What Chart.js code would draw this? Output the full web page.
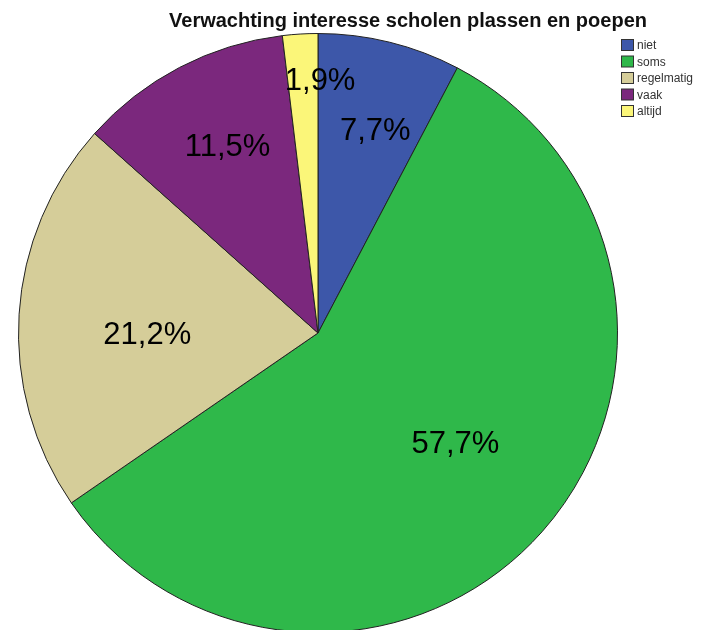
<!DOCTYPE html>
<html>
<head>
<meta charset="utf-8">
<script src="https://cdn.jsdelivr.net/npm/chart.js@4.4.1/dist/chart.umd.min.js"></script>
<style>
	html, body { margin: 0; padding: 0; background: #fff; overflow: hidden; }
	#wrap { position: relative; width: 703px; height: 636px; }
</style>
</head>
<body>
<div id="wrap"><canvas id="chart"></canvas></div>
<script>
// Chart data (percentages as shown in the picture)
var categories = ['niet', 'soms', 'regelmatig', 'vaak', 'altijd'];
var values = [7.7, 57.7, 21.2, 11.5, 1.9];
var labels = ['7,7%', '57,7%', '21,2%', '11,5%', '1,9%'];
var colors = ['#3d57a9', '#2fb84a', '#d5cd99', '#7b287d', '#fbf679'];
var title = 'Verwachting interesse scholen plassen en poepen';

// label placement: part of the radius, and a small turn (degrees) off the slice middle
var labelRadius = [0.70, 0.59, 0.57, 0.69, 0.84];
var labelTurn = [2, -2.6, -4.3, 1.6, 3.9];

var sliceLabels = {
	id: 'sliceLabels',
	afterDatasetsDraw: function(chart) {
		var ctx = chart.ctx;
		var meta = chart.getDatasetMeta(0);
		ctx.save();
		ctx.fillStyle = '#000';
		ctx.font = '31px "Liberation Sans", Arial, sans-serif';
		ctx.textAlign = 'center';
		ctx.textBaseline = 'middle';
		meta.data.forEach(function(arc, i) {
			var mid = (arc.startAngle + arc.endAngle) / 2 + labelTurn[i] * Math.PI / 180;
			var r = arc.outerRadius * labelRadius[i];
			ctx.fillText(labels[i], arc.x + Math.cos(mid) * r, arc.y + Math.sin(mid) * r);
		});
		ctx.restore();
	}
};

var titleAndLegend = {
	id: 'titleAndLegend',
	afterDraw: function(chart) {
		var ctx = chart.ctx;
		ctx.save();
		// title
		ctx.fillStyle = '#111';
		ctx.font = 'bold 20px "Liberation Sans", Arial, sans-serif';
		ctx.textAlign = 'center';
		ctx.textBaseline = 'alphabetic';
		ctx.fillText(title, 408, 27);

		// legend
		ctx.font = '12px "Liberation Sans", Arial, sans-serif';
		ctx.textAlign = 'left';
		ctx.textBaseline = 'middle';
		categories.forEach(function(name, i) {
			var y = 45 + i * 16.5;
			ctx.fillStyle = colors[i];
			ctx.fillRect(621.5, y - 5.5, 12, 11);
			ctx.strokeStyle = '#333';
			ctx.lineWidth = 1;
			ctx.strokeRect(621.5, y - 5.5, 12, 11);
			ctx.fillStyle = '#333';
			ctx.fillText(name, 637, y + 1);
		});
		ctx.restore();
	}
};

new Chart(document.getElementById('chart'), {
	type: 'pie',
	data: {
		labels: categories,
		datasets: [{
			data: values,
			backgroundColor: colors,
			borderColor: '#222',
			borderWidth: 1
		}]
	},
	options: {
		responsive: true,
		maintainAspectRatio: false,
		animation: false,
		layout: {
			padding: { left: 18, right: 85, top: 33, bottom: 3 }
		},
		plugins: {
			legend: { display: false },
			tooltip: { enabled: false },
			title: { display: false }
		}
	},
	plugins: [sliceLabels, titleAndLegend]
});
</script>
</body>
</html>
